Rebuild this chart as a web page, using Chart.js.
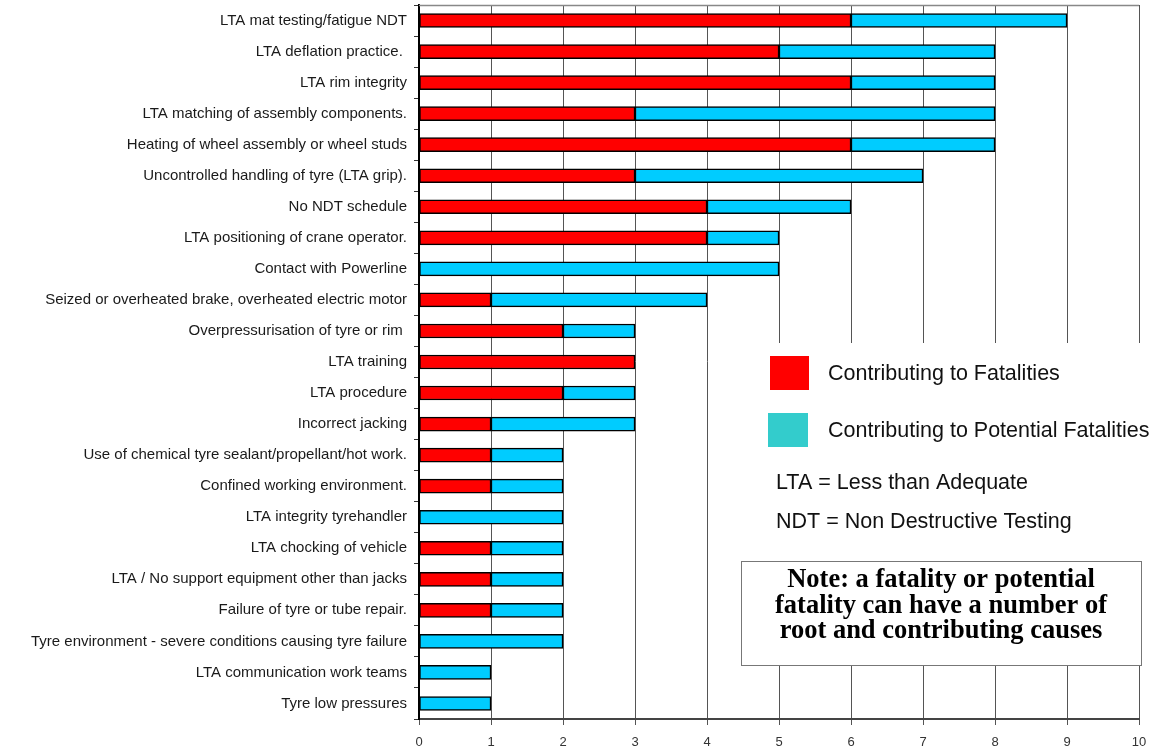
<!DOCTYPE html>
<html>
<head>
<meta charset="utf-8">
<script src="https://cdn.jsdelivr.net/npm/chart.js@4"></script>
<style>
 html, body { margin: 0; padding: 0; background: #fff; }
 #wrap { width: 1160px; height: 751px; }
</style>
</head>
<body>
<div id="wrap"><canvas id="chartCanvas" width="1160" height="751"></canvas></div>
<script>
// causes, top to bottom
const causes = [
 'LTA mat testing/fatigue NDT',
 'LTA deflation practice. ',
 'LTA rim integrity',
 'LTA matching of assembly components.',
 'Heating of wheel assembly or wheel studs',
 'Uncontrolled handling of tyre (LTA grip).',
 'No NDT schedule',
 'LTA positioning of crane operator.',
 'Contact with Powerline',
 'Seized or overheated brake, overheated electric motor',
 'Overpressurisation of tyre or rim ',
 'LTA training',
 'LTA procedure',
 'Incorrect jacking',
 'Use of chemical tyre sealant/propellant/hot work.',
 'Confined working environment.',
 'LTA integrity tyrehandler',
 'LTA chocking of vehicle',
 'LTA / No support equipment other than jacks',
 'Failure of tyre or tube repair.',
 'Tyre environment - severe conditions causing tyre failure',
 'LTA communication work teams',
 'Tyre low pressures'
];
const fatalities = [6, 5, 6, 3, 6, 3, 4, 4, 0, 1, 2, 3, 2, 1, 1, 1, 0, 1, 1, 1, 0, 0, 0];
const potential  = [3, 3, 2, 5, 2, 4, 2, 1, 5, 3, 1, 0, 1, 2, 1, 1, 2, 1, 1, 1, 2, 1, 1];
const xTicks = [0, 1, 2, 3, 4, 5, 6, 7, 8, 9, 10];

const legendItems = ['Contributing to Fatalities', 'Contributing to Potential Fatalities'];
const notes = ['LTA = Less than Adequate', 'NDT = Non Destructive Testing'];
const noteLines = ['Note: a fatality or potential', 'fatality can have a number of', 'root and contributing causes'];

Chart.defaults.font.family = '"Liberation Sans", Arial, sans-serif';

// draws the top border, the white legend panel and the note box
const panelPlugin = {
 id: 'panel',
 afterDraw(chart) {
  const c = chart.ctx;
  const a = chart.chartArea;
  c.save();
  c.strokeStyle = '#888';
  c.lineWidth = 1.5;
  c.beginPath();
  c.moveTo(a.left, a.top + 0.5);
  c.lineTo(a.right, a.top + 0.5);
  c.stroke();

  c.fillStyle = '#fff';
  c.fillRect(710, 343, 433, 323);

  c.fillStyle = '#ff0000';
  c.fillRect(770, 356, 39, 34);
  c.fillStyle = '#33cccc';
  c.fillRect(768, 413, 40, 34);

  c.fillStyle = '#111';
  c.font = '21.5px "Liberation Sans", Arial, sans-serif';
  c.textBaseline = 'middle';
  c.textAlign = 'left';
  c.fillText(legendItems[0], 828, 374);
  c.fillText(legendItems[1], 828, 431);
  c.fillText(notes[0], 776, 483);
  c.fillText(notes[1], 776, 522);

  c.strokeStyle = '#777';
  c.lineWidth = 1;
  c.strokeRect(741.5, 561.5, 400, 104);
  c.fillStyle = '#000';
  c.font = 'bold 26.5px "Liberation Serif", "Times New Roman", serif';
  c.textAlign = 'center';
  c.fillText(noteLines[0], 941, 580);
  c.fillText(noteLines[1], 941, 606);
  c.fillText(noteLines[2], 941, 631);
  c.restore();
 }
};

const ctx = document.getElementById('chartCanvas').getContext('2d');
new Chart(ctx, {
 type: 'bar',
 data: {
  labels: causes,
  datasets: [
   {
    label: legendItems[0],
    data: fatalities,
    backgroundColor: '#ff0000',
    borderColor: '#000',
    borderWidth: 1.5,
    borderSkipped: false
   },
   {
    label: legendItems[1],
    data: potential,
    backgroundColor: '#00ccff',
    borderColor: '#000',
    borderWidth: 1.5,
    borderSkipped: false
   }
  ]
 },
 options: {
  indexAxis: 'y',
  responsive: false,
  animation: false,
  barThickness: 14,
  layout: { padding: { top: 5, right: 21, left: 0, bottom: 0 } },
  plugins: {
   legend: { display: false },
   tooltip: { enabled: false }
  },
  scales: {
   x: {
    stacked: true,
    min: 0,
    max: 10,
    afterBuildTicks: axis => { axis.ticks = xTicks.map(v => ({ value: v })); },
    afterFit: axis => { axis.height = 32; },
    grid: { color: '#555', lineWidth: 1, tickLength: 6 },
    border: { color: '#444', width: 2 },
    ticks: {
     color: '#333',
     padding: 10,
     font: { family: '"Liberation Sans Narrow", "Arial Narrow", sans-serif', size: 13 }
    }
   },
   y: {
    stacked: true,
    afterFit: axis => {
     axis.width = 419;
     axis.paddingTop = 0;
     axis.paddingBottom = 0;
    },
    grid: { drawOnChartArea: false, tickLength: 5, color: '#333', offset: true },
    border: { color: '#000', width: 2 },
    ticks: {
     color: '#1a1a1a',
     padding: 7,
     autoSkip: false,
     font: { size: 15 }
    }
   }
  }
 },
 plugins: [panelPlugin]
});
</script>
</body>
</html>
